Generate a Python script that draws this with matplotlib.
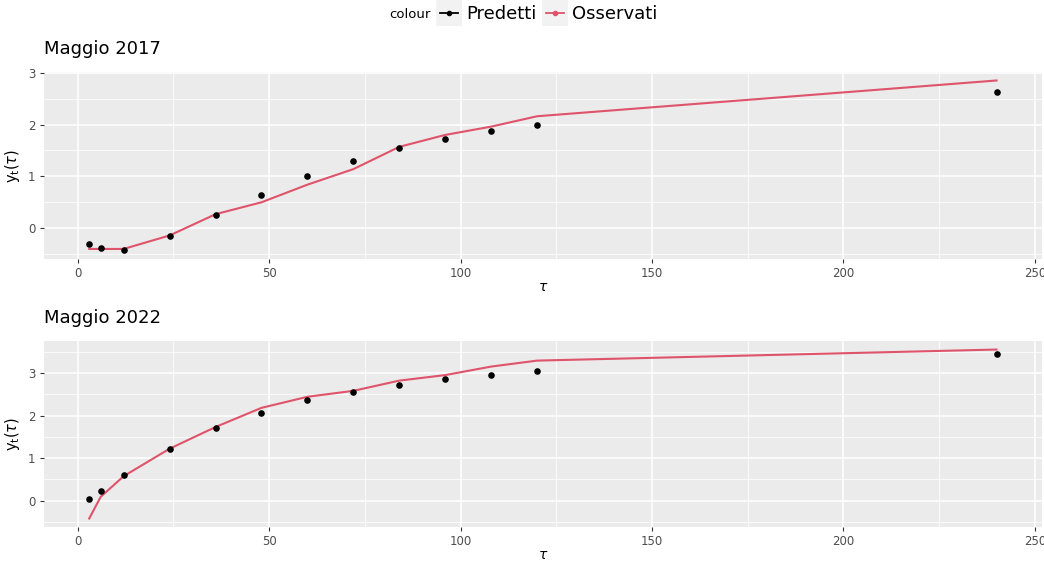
import numpy as np
import matplotlib.pyplot as plt
from matplotlib.lines import Line2D
from matplotlib.patches import Rectangle
from matplotlib.legend_handler import HandlerLine2D
from matplotlib.ticker import MultipleLocator

# scadenze (mesi)
tau = [3, 6, 12, 24, 36, 48, 60, 72, 84, 96, 108, 120, 240]

# Maggio 2017
pred_2017 = [-0.31, -0.39, -0.43, -0.15, 0.25, 0.65, 1.00, 1.29, 1.54, 1.73, 1.885, 2.00, 2.62]
oss_2017 = [-0.40, -0.40, -0.40, -0.14, 0.27, 0.50, 0.84, 1.14, 1.57, 1.80, 1.96, 2.16, 2.85]

# Maggio 2022
pred_2022 = [0.046, 0.23, 0.60, 1.22, 1.71, 2.06, 2.36, 2.56, 2.72, 2.86, 2.96, 3.05, 3.45]
oss_2022 = [-0.42, 0.09, 0.575, 1.22, 1.73, 2.18, 2.44, 2.58, 2.82, 2.95, 3.15, 3.29, 3.55]

titles = ["Maggio 2017", "Maggio 2022"]
RED = "#DF536B"


class KeyHandler(HandlerLine2D):
    # chiave con sfondo grigio come ggplot
    def create_artists(self, legend, orig_handle, xdescent, ydescent,
                       width, height, fontsize, trans):
        bg = Rectangle((-xdescent - 3, -ydescent - 5), width + 6, height + 10,
                       facecolor="#F2F2F2", edgecolor="none", transform=trans)
        arts = super().create_artists(legend, orig_handle, xdescent, ydescent,
                                      width, height, fontsize, trans)
        return [bg] + arts


def style_ax(ax):
    ax.set_facecolor("#EBEBEB")
    for s in ax.spines.values():
        s.set_visible(False)
    ax.xaxis.set_major_locator(MultipleLocator(50))
    ax.xaxis.set_minor_locator(MultipleLocator(25))
    ax.yaxis.set_major_locator(MultipleLocator(1))
    ax.yaxis.set_minor_locator(MultipleLocator(0.5))
    ax.grid(which="major", color="white", linewidth=1.1)
    ax.grid(which="minor", color="white", linewidth=0.55)
    ax.set_axisbelow(True)
    ax.tick_params(which="major", length=3, width=0.8, color="#333333",
                   labelcolor="#4D4D4D", labelsize=8.5, pad=3)
    ax.tick_params(which="minor", length=0)
    ax.set_xlim(-8.85, 251.85)


fig = plt.figure(figsize=(10.44, 5.65), dpi=100)
ax1 = fig.add_axes([0.042, 0.5416, 0.956, 0.331])
ax2 = fig.add_axes([0.042, 0.0673, 0.956, 0.329])

series = [(pred_2017, oss_2017), (pred_2022, oss_2022)]
for ax, (pred, oss), title in zip([ax1, ax2], series, titles):
    style_ax(ax)
    ax.plot(tau, oss, color=RED, linewidth=1.5)
    ax.scatter(tau, pred, color="black", s=14, zorder=3)
    lo = min(min(pred), min(oss))
    hi = max(max(pred), max(oss))
    pad = (hi - lo) * 0.05
    ax.set_ylim(lo - pad, hi + pad)
    ax.set_title(title, loc="left", fontsize=13, pad=13)
    ax.set_xlabel(r"$\tau$", fontsize=10, labelpad=0)
    ax.set_ylabel(r"$\mathrm{y_t}(\tau)$", fontsize=10.5, labelpad=4)

# legenda in alto
fig.text(0.373, 0.975, "colour", fontsize=9.5, ha="left", va="center")
handles = [
    Line2D([], [], color="black", marker="o", markersize=3, linewidth=1.3),
    Line2D([], [], color=RED, marker="o", markersize=3, linewidth=1.3),
]
fig.legend(handles, ["Predetti", "Osservati"], loc="center left",
           bbox_to_anchor=(0.4125, 0.975), ncol=2, frameon=False, fontsize=13,
           handlelength=1.0, handletextpad=0.45, columnspacing=0.55,
           borderpad=0, handler_map={Line2D: KeyHandler()})

fig.savefig("out.png", dpi=100)
